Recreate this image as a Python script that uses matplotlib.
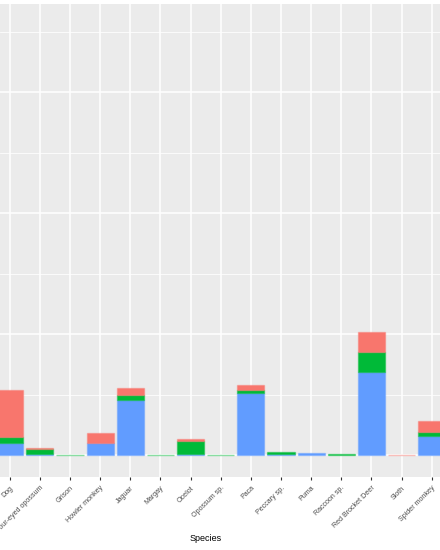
import numpy as np
import matplotlib
matplotlib.use('Agg')
import matplotlib.pyplot as plt

species = ['Dog', 'Four-eyed opossum', 'Grison', 'Howler monkey', 'Jaguar', 'Margay',
           'Ocelot', 'Opossum sp.', 'Paca', 'Peccary sp.', 'Puma', 'Raccoon sp.',
           'Red Brocket Deer', 'Sloth', 'Spider monkey']

# stacked segments, bottom to top (nan = no record for that group)
blue = [10, 1, np.nan, 10.5, 46, np.nan, 1, np.nan, 52, 1.5, 2.2, np.nan, 69, np.nan, 16]
green = [5, 4, 0, np.nan, 4, 0, 11, 0, 2.5, 1.5, np.nan, 0.8, 16.5, np.nan, 3.3]
red = [39, 1, np.nan, 8, 6, np.nan, 1.5, np.nan, 4, np.nan, np.nan, np.nan, 16.5, 0, 8.8]

plt.rcParams['font.family'] = ['Liberation Sans', 'DejaVu Sans']

fig = plt.figure(figsize=(4.4, 5.5), dpi=100)
ax = fig.add_axes([0, 73 / 550, 1, 473 / 550])
ax.set_facecolor('#EBEBEB')

x = np.arange(len(species))
bottom = np.zeros(len(species))
for vals, col in [(blue, '#619CFF'), (green, '#00BA38'), (red, '#F8766D')]:
    v = np.array(vals, dtype=float)
    ax.bar(x, v, 0.9, bottom=bottom, color=col, edgecolor=matplotlib.colors.to_rgba(col, 0.45),
           linewidth=1.0, zorder=3)
    bottom = bottom + np.nan_to_num(v)

ax.set_xlim(-0.322, 14.276)
ax.set_ylim(-17.8, 373.1)
ax.set_yticks([0, 100, 200, 300])
ax.set_yticks([50, 150, 250, 350], minor=True)
ax.grid(which='major', color='white', linewidth=1.1, zorder=0)
ax.grid(which='minor', axis='y', color='white', linewidth=0.55, zorder=0)
ax.set_axisbelow(True)
for s in ax.spines.values():
    s.set_visible(False)

ax.set_xticks(x)
ax.set_xticklabels(species, rotation=45, ha='right', va='top', rotation_mode='anchor',
                   fontsize=5.1, color='#4D4D4D')
ax.tick_params(axis='x', length=2.2, width=0.8, color='#333333', pad=3.2)
ax.tick_params(axis='y', which='both', left=False, labelleft=False)

ax.set_xlabel('Species', fontsize=6.5, color='black')
ax.xaxis.set_label_coords(206 / 440, (550 - 534 - 73) / 473)
ax.xaxis.label.set_va('top')

fig.savefig('out.png', dpi=100)
